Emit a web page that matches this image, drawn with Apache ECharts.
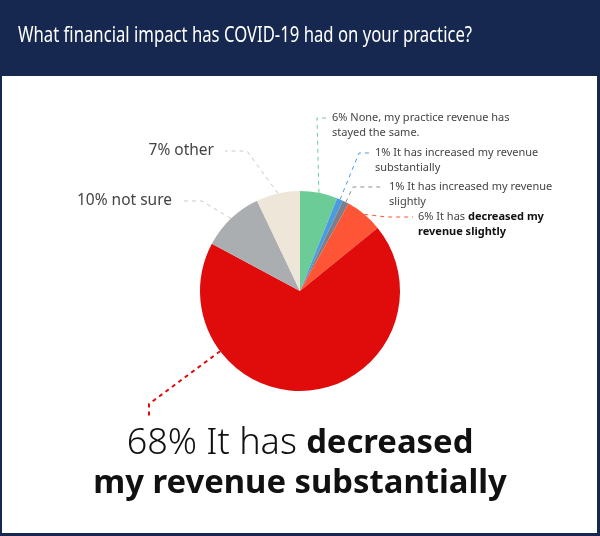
<!DOCTYPE html>
<html>
<head>
<meta charset="utf-8">
<script src="https://cdn.jsdelivr.net/npm/echarts@6/dist/echarts.min.js"></script>
<style>html,body{margin:0;padding:0;background:#fff}#c{width:600px;height:536px}</style>
</head>
<body>
<div id="c"></div>
<script>
// ---- data ----
const titleText = 'What financial impact has COVID-19 had on your practice?';
const categories = [
  'None, my practice revenue has stayed the same.',
  'It has increased my revenue substantially',
  'It has increased my revenue slightly',
  'It has decreased my revenue slightly',
  'It has decreased my revenue substantially',
  'not sure',
  'other'
];
const values = [6, 1, 1, 6, 68, 10, 7];
const colors = ['#6ccc98', '#4b9be0', '#7b7f89', '#fd5535', '#e00b0b', '#abaeb1', '#ede6d9'];
const lineColors = ['#6ccc98', '#4b9be0', '#8a8e96', '#fd5535', '#e00b0b', '#c9c9c9', '#c9c9c9'];

// ---- layout (label placement) ----
const CX = 300, CY = 291, R = 100;
const spots = [
  {x: 332, y: 110, align: 'left', va: 'top', bend: [317, 118], end: [327, 118]},
  {x: 375, y: 145, align: 'left', va: 'top', bend: [359, 153], end: [371, 153]},
  {x: 389, y: 179, align: 'left', va: 'top', bend: [353, 187], end: [380, 187]},
  {x: 418, y: 209, align: 'left', va: 'top', bend: [387, 217], end: [413, 217]},
  {x: 300, y: 424, align: 'center', va: 'top', bend: [149, 404], end: [149, 417], startAngle: 233},
  {x: 172, y: 201, align: 'right', va: 'middle', bend: [202, 201], end: [182, 201]},
  {x: 214, y: 151, align: 'right', va: 'middle', bend: [247, 151], end: [225, 151]}
];

const FONT = '"Noto Sans", sans-serif';
const small = {fontSize: 11, lineHeight: 15, color: '#444', fontFamily: FONT};
const smallB = {fontSize: 11, lineHeight: 15, color: '#111', fontWeight: 'bold', fontFamily: FONT};
const mid = {fontSize: 15.5, lineHeight: 18, color: '#444', fontFamily: FONT};
const bigL = {fontSize: 36, lineHeight: 40, color: '#111', fontWeight: 300, fontFamily: FONT};
const bigB = {fontSize: 32.8, lineHeight: 40, color: '#111', fontWeight: 'bold', fontFamily: FONT};

function labelFor(i) {
  const p = values[i] + '%';
  switch (i) {
    case 0: return {formatter: '{a|' + p + ' None, my practice revenue has}\n{a|stayed the same.}', rich: {a: small}};
    case 1: return {formatter: '{a|' + p + ' It has increased my revenue}\n{a|substantially}', rich: {a: small}};
    case 2: return {formatter: '{a|' + p + ' It has increased my revenue}\n{a|slightly}', rich: {a: small}};
    case 3: return {formatter: '{a|' + p + ' It has }{b|decreased my}\n{b|revenue slightly}', rich: {a: small, b: smallB}};
    case 4: return {formatter: '{a|' + p + ' It has }{b|decreased}\n{b|my revenue substantially}', rich: {a: bigL, b: bigB}};
    case 5: return {formatter: '{a|' + p + ' ' + categories[5] + '}', rich: {a: mid}};
    case 6: return {formatter: '{a|' + p + ' ' + categories[6] + '}', rich: {a: mid}};
  }
}

const data = categories.map((name, i) => ({
  name: name,
  value: values[i],
  itemStyle: {color: colors[i]},
  label: labelFor(i),
  labelLine: {lineStyle: {color: lineColors[i], type: [4, 4], width: i === 4 ? 2 : 1}}
}));

const chart = echarts.init(document.getElementById('c'), null, {renderer: 'canvas'});
chart.setOption({
  backgroundColor: '#16284f',
  animation: false,
  graphic: [
    {type: 'rect', z: -10, shape: {x: 2, y: 76, width: 595, height: 457}, style: {fill: '#ffffff'}},
    {type: 'text', x: 18, y: 36, scaleX: 0.795, originX: 0,
     style: {text: titleText, fill: '#ffffff', fontSize: 21, fontFamily: FONT, verticalAlign: 'middle', align: 'left'}}
  ],
  series: [{
    type: 'pie',
    center: [CX, CY],
    radius: [0, R],
    startAngle: 90,
    clockwise: true,
    avoidLabelOverlap: false,
    itemStyle: {borderWidth: 0},
    label: {show: true, position: 'outside'},
    labelLine: {show: true, length: 10, length2: 10},
    labelLayout: function (params) {
      const s = spots[params.dataIndex];
      let start = params.labelLinePoints ? params.labelLinePoints[0] : [CX, CY];
      if (s.startAngle != null) {
        const a = s.startAngle * Math.PI / 180;
        start = [CX + R * Math.sin(a), CY - R * Math.cos(a)];
      }
      return {x: s.x, y: s.y, align: s.align, verticalAlign: s.va, labelLinePoints: [start, s.bend, s.end]};
    },
    data: data
  }]
});
</script>
</body>
</html>
